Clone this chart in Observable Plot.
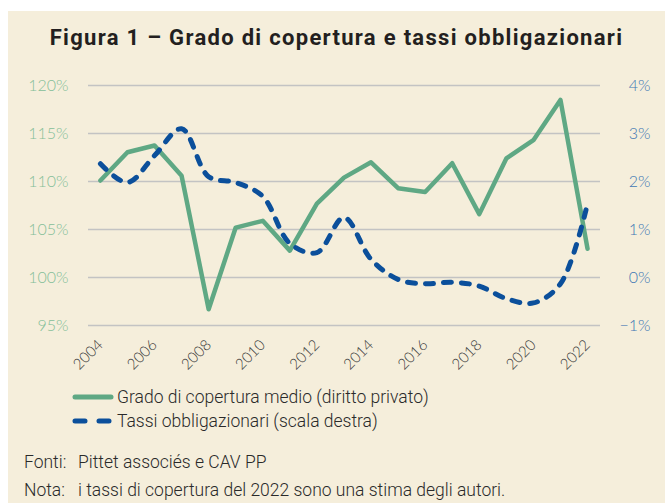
<!DOCTYPE html>
<html>
<head>
<meta charset="utf-8">
<script src="https://cdn.jsdelivr.net/npm/d3@7"></script>
<script src="https://cdn.jsdelivr.net/npm/@observablehq/plot@0.6"></script>
<style>
  html, body { margin: 0; padding: 0; background: #ffffff; }
  #panel { position: absolute; left: 8px; top: 11px; width: 657px; height: 492px; background: #f5eedb; overflow: hidden; }
  #title { position: absolute; left: 0; width: 657px; top: 14px; text-align: center; font-family: Roboto, sans-serif; font-weight: 700; font-size: 22px; letter-spacing: 1.3px; color: #231f20; }
  #chart { position: absolute; left: 0; top: 59px; }
  .txt { font-family: Roboto, sans-serif; font-weight: 300; font-size: 17.5px; color: #2a2a2a; }
  .leg { position: absolute; left: 64px; display: flex; align-items: center; }
  .leg svg { margin-right: 3px; }
  .note { position: absolute; left: 16px; }
  .note span.k { display: inline-block; width: 54px; }
</style>
</head>
<body>
<div id="panel">
  <div id="title">Figura 1 – Grado di copertura e tassi obbligazionari</div>
  <div id="chart"></div>
  <div class="leg txt" id="leg1" style="top:376px"></div>
  <div class="leg txt" id="leg2" style="top:400px"></div>
  <div class="note txt" style="top:441px"><span class="k">Fonti:</span>Pittet associés e CAV PP</div>
  <div class="note txt" style="top:469px"><span class="k">Nota:</span>i tassi di copertura del 2022 sono una stima degli autori.</div>
</div>
<script>
const years = [2004,2005,2006,2007,2008,2009,2010,2011,2012,2013,2014,2015,2016,2017,2018,2019,2020,2021,2022];
const coverage = [110.1,113.05,113.75,110.6,96.7,105.2,105.9,102.8,107.7,110.4,112.0,109.3,108.9,111.9,106.6,112.4,114.3,118.5,103.0];
const bondRates = [2.37,1.98,2.54,3.1,2.1,1.98,1.69,0.71,0.52,1.25,0.38,-0.04,-0.13,-0.1,-0.18,-0.44,-0.53,-0.13,1.54];
const leftTicks = [95,100,105,110,115,120];
const rightTicks = [-1,0,1,2,3,4];
const xTicks = [2004,2006,2008,2010,2012,2014,2016,2018,2020,2022];
const seriesNames = ["Grado di copertura medio (diritto privato)", "Tassi obbligazionari (scala destra)"];

const green = "#5fa884";
const blue = "#0b4f9b";

// map right-axis values onto left scale: 0% -> 100, 1% -> 105
const toLeft = v => 100 + v * 5;
const covData = years.map((y, i) => ({year: y, value: coverage[i]}));
const bondData = years.map((y, i) => ({year: y, value: toLeft(bondRates[i])}));

const chart = Plot.plot({
  width: 657,
  height: 305,
  marginLeft: 80,
  marginRight: 65,
  marginTop: 15,
  marginBottom: 50,
  style: {background: "transparent", fontFamily: "Lato, sans-serif", overflow: "visible"},
  x: {domain: [2003.56, 2022.48], label: null},
  y: {domain: [95, 120], label: null},
  marks: [
    Plot.ruleY(leftTicks, {stroke: "#c3c3c3", strokeWidth: 1.5}),
    Plot.axisY(leftTicks, {anchor: "left", label: null, tickSize: 0, tickPadding: 20, tickFormat: d => d + "%", fill: "#85be99", fontSize: 16, fontWeight: 300}),
    Plot.axisY(rightTicks.map(toLeft), {anchor: "right", label: null, tickSize: 0, tickPadding: 0, textAnchor: "end", dx: 50, tickFormat: d => { const v = Math.round((d - 100) / 5); return (v < 0 ? "−" + Math.abs(v) : v) + "%"; }, fill: "#3f78b4", fontSize: 16, fontWeight: 300}),
    Plot.axisX(xTicks, {anchor: "bottom", label: null, tickSize: 0, tickPadding: 17, tickRotate: -45, tickFormat: d => String(d), fill: "#3a3a3a", fontSize: 15, fontWeight: 300}),
    Plot.lineY(covData, {x: "year", y: "value", stroke: green, strokeWidth: 4.5, strokeLinejoin: "round", strokeLinecap: "round"}),
    Plot.lineY(bondData, {x: "year", y: "value", stroke: blue, strokeWidth: 5, curve: "catmull-rom", strokeDasharray: "8,10", strokeLinecap: "round"})
  ]
});
document.getElementById("chart").appendChild(chart);

function legend(id, color, dashed, label) {
  const el = document.getElementById(id);
  const svg = d3.create("svg").attr("width", 42).attr("height", 10);
  svg.append("line").attr("x1", 3).attr("x2", 39).attr("y1", 5).attr("y2", 5)
    .attr("stroke", color).attr("stroke-width", 5).attr("stroke-linecap", "round")
    .attr("stroke-dasharray", dashed ? "10,14" : null);
  el.appendChild(svg.node());
  const t = document.createElement("span");
  t.textContent = label;
  el.appendChild(t);
}
legend("leg1", green, false, seriesNames[0]);
legend("leg2", blue, true, seriesNames[1]);
</script>
</body>
</html>
